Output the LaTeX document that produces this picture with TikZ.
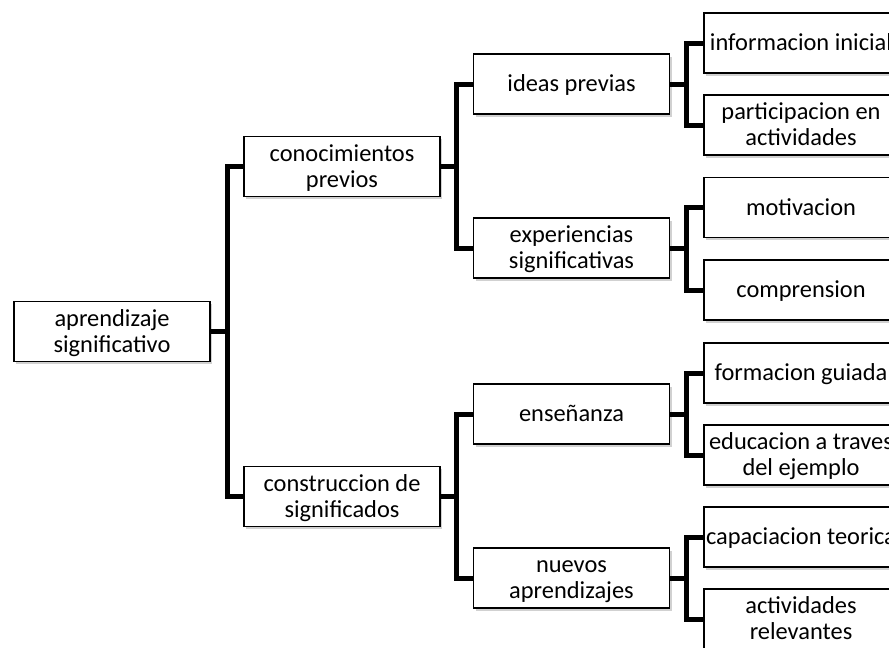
\documentclass[tikz,border=0pt]{standalone}
\usepackage{fontspec}
\setmainfont{Carlito}
\usetikzlibrary{calc,shadows}
% line strut so that one- and two-line labels sit alike in their boxes
\newcommand{\lblstrut}{\rule[-5.2pt]{0pt}{26pt}}
\newcommand{\one}[1]{\lblstrut#1}
\newcommand{\two}[2]{\lblstrut#1\\#2\lblstrut}
\begin{document}
\begin{tikzpicture}[x=1pt,y=-1pt,
  box/.style={draw=black, line width=1.4pt, fill=white, align=center,
    minimum width=196pt, minimum height=60pt, inner sep=1pt,
    font=\fontsize{24.4}{26}\selectfont,
    drop shadow={shadow xshift=2pt, shadow yshift=-2.5pt, opacity=0.3, fill=black!60}},
  leaf/.style={box, minimum width=194pt},
  conn/.style={line width=5pt, line join=miter}]
\useasboundingbox (0,0) rectangle (889,648);
\clip (0,0) rectangle (889,648);

% tree nodes
\node[box] (root) at (112,331.5) {\two{aprendizaje}{significativo}};
\node[box] (kp) at (342,166.5) {\two{conocimientos}{previos}};
\node[box] (cs) at (342,496.5) {\two{construccion de}{significados}};
\node[box] (ip) at (571.5,84) {\one{ideas previas}};
\node[box] (es) at (571.5,248) {\two{experiencias}{significativas}};
\node[box] (en) at (571.5,414) {\one{enseñanza}};
\node[box] (na) at (571.5,578) {\two{nuevos}{aprendizajes}};
\node[leaf] (ii) at (801,43) {\one{informacion inicial}};
\node[leaf] (pa) at (801,125) {\two{participacion en}{actividades}};
\node[leaf] (mo) at (801,207.5) {\one{motivacion}};
\node[leaf] (co) at (801,290) {\one{comprension}};
\node[leaf] (fg) at (801,373) {\one{formacion guiada}};
\node[leaf] (ed) at (801,455) {\two{educacion a traves}{del ejemplo}};
\node[leaf] (ct) at (801,537) {\one{capaciacion teorica}};
\node[leaf] (ar) at (801,619) {\two{actividades}{relevantes}};

% elbow connectors, bending halfway between parent and child
\foreach \src/\dst in {root/kp, root/cs, kp/ip, kp/es, cs/en, cs/na,
                   ip/ii, ip/pa, es/mo, es/co, en/fg, en/ed, na/ct, na/ar} {
  \draw[conn] let \p1=(\src.east), \p2=(\dst.west) in
    (\p1) -- ({(\x1+\x2)/2},\y1) |- (\p2);
}
\end{tikzpicture}
\end{document}
